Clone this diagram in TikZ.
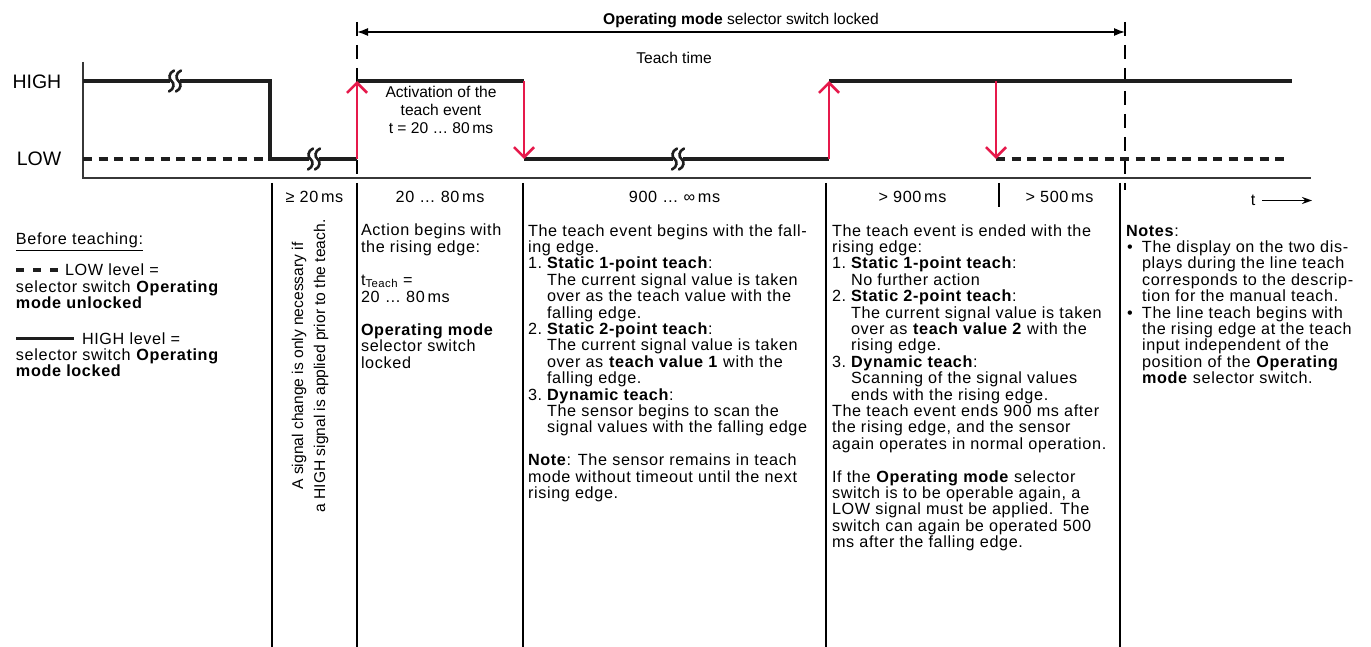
\documentclass[tikz,border=0pt]{standalone}
\usepackage{fontspec}
\setmainfont{Liberation Sans}
\newfontfamily\bodyfam[LetterSpace=4]{Liberation Sans}
\usetikzlibrary{arrows.meta}
\definecolor{tred}{RGB}{230,25,75}
\definecolor{axgray}{RGB}{55,55,55}
\definecolor{sigblack}{RGB}{30,30,30}
\newcommand{\bodyfont}{\bodyfam\fontsize{16.2}{16.4}\selectfont\lineskiplimit=-20pt\relax}
\newcommand{\smallfont}{\fontsize{15.6}{18}\selectfont\lineskiplimit=-20pt\relax}
\newcommand{\rotfont}{\fontsize{15.6}{22}\selectfont\lineskiplimit=-20pt\relax}
\newcommand{\bigfont}{\fontsize{19.5}{22}\selectfont}
\newcommand{\fs}{\rule{0pt}{14pt}}
\newcommand{\numi}[1]{\makebox[19pt][l]{#1}}
\newcommand{\ind}{\makebox[19pt]{}}
\newcommand{\bul}{\makebox[16pt][l]{\hspace{1pt}•}}
\newcommand{\bind}{\makebox[16pt]{}}
\begin{document}
\begin{tikzpicture}[x=1pt,y=-1pt,
  sig/.style={line width=3.2pt, sigblack},
  lowdash/.style={sig, dash pattern=on 9pt off 6.5pt},
  legdash/.style={line width=3.4pt, sigblack, dash pattern=on 8pt off 9pt},
  redarr/.style={line width=2.6pt, tred, -{Straight Barb[length=10pt,width=20pt]}},
  colline/.style={line width=1.1pt, black},
  guide/.style={line width=1.2pt, black, dash pattern=on 14pt off 9pt},
  axisline/.style={line width=1.6pt, axgray},
  txt/.style={font=\bodyfont, inner sep=0pt, outer sep=0pt, align=left, anchor=north west},
  lbl/.style={font=\bodyfont, inner sep=0pt, anchor=base},
  small/.style={font=\smallfont, inner sep=0pt},
  lvl/.style={font=\bigfont, inner sep=0pt, anchor=east},
  brk/.pic={
    \fill[white] (-5,-2.2) rectangle (5,2.2);
    \draw[line width=2.6pt, sigblack, line cap=round] (-1,-10.5) .. controls (-6.5,-8) and (-6.5,-2) .. (-3.5,0) .. controls (-0.5,2) and (-0.5,8) .. (-6,10.5);
    \draw[line width=2.6pt, sigblack, line cap=round] (6,-10.5) .. controls (0.5,-8) and (0.5,-2) .. (3.5,0) .. controls (6.5,2) and (6.5,8) .. (1,10.5);
  }
]
\useasboundingbox (0,0) rectangle (1371,647);
\fill[white] (0,0) rectangle (1371,647);

% ---------- axes ----------
\coordinate (axtop) at (83,62);
\coordinate (axorig) at (83,178);
\coordinate (axend) at (1311,178);
\draw[axisline] (axtop) -- (axorig) -- (axend);

% ---------- level labels ----------
\node[lvl] (high) at (61.5,81.5) {HIGH};
\node[lvl] (low) at (61.5,159) {LOW};

% ---------- guides and top arrow ----------
\coordinate (gLt) at (357,22);
\coordinate (gLb) at (357,178);
\coordinate (gRt) at (1125,22);
\coordinate (gRb) at (1125,190);
\draw[guide] (gLt) -- (gLb);
\draw[guide] (gRt) -- (gRb);
\coordinate (aL) at (357,32);
\coordinate (aR) at (1125,32);
\draw[line width=1.3pt, {Latex[length=11pt,width=8pt]}-{Latex[length=11pt,width=8pt]}] (aL) -- (aR);
\node[small, anchor=base] (oml) at (741,24.5) {\textbf{Operating mode} selector switch locked};
\node[small, anchor=base] (tt) at (674,63.5) {Teach time};
\node[small, align=center, anchor=north] (act) at (441,84.5) {\rule{0pt}{13pt}Activation of the\\teach event\\t = 20 … 80\,ms};

% ---------- signal ----------
\coordinate (H0) at (83,81);
\coordinate (L0) at (83,159);
\coordinate (F1) at (270,81);
\coordinate (F1b) at (270,159);
\coordinate (R1) at (357,159);
\coordinate (R1t) at (357,81);
\coordinate (D1) at (524,81);
\coordinate (D1b) at (524,159);
\coordinate (R2) at (829,159);
\coordinate (R2t) at (829,81);
\coordinate (D2) at (996,81);
\coordinate (D2b) at (996,159);
\coordinate (Hend) at (1292,81);
\coordinate (Lend) at (1287,159);
\draw[lowdash] (L0) -- (F1b);
\draw[sig] (H0) -- (F1) -- (F1b) -- (R1);
\draw[sig] (R1t) -- (D1);
\draw[sig] (D1b) -- (R2);
\draw[sig] (R2t) -- (Hend);
\draw[lowdash] (D2b) -- (Lend);
\pic at (175,81) {brk};
\pic at (314,159) {brk};
\pic at (678,159) {brk};
\draw[redarr] (R1) -- (R1t);
\draw[redarr] (D1) -- (D1b);
\draw[redarr] (R2) -- (R2t);
\draw[redarr] (D2) -- (D2b);

% ---------- t axis label ----------
\node[lbl] (tlab) at (1253,206) {t};
\coordinate (ta) at (1262,200.5);
\coordinate (tb) at (1312,200.5);
\draw[line width=1.3pt, -{Stealth[length=10pt,width=7pt]}] (ta) -- (tb);

% ---------- column lines ----------
\foreach \cx/\nm in {272/c1,357/c2,523/c3,826/c4,1120/c5}{
  \coordinate (\nm t) at (\cx,183);
  \coordinate (\nm b) at (\cx,647);
  \draw[colline] (\nm t) -- (\nm b);
}
\coordinate (tickt) at (999,183);
\coordinate (tickb) at (999,207);
\draw[colline] (tickt) -- (tickb);

% ---------- timing labels ----------
\node[lbl] (t1) at (314.5,203) {≥ 20\,ms};
\node[lbl] (t2) at (440,203) {20 … 80\,ms};
\node[lbl] (t3) at (674.5,203) {900 … ∞\,ms};
\node[lbl] (t4) at (912.5,203) {> 900\,ms};
\node[lbl] (t5) at (1059.5,203) {> 500\,ms};

% ---------- legend ----------
\node[txt] (bt) at (16,231) {\fs\underline{Before teaching:}};
\coordinate (ld1) at (16,270);
\coordinate (ld2) at (59,270);
\draw[legdash] (ld1) -- (ld2);
\node[txt] (lowl) at (65,262) {\fs LOW level =};
\node[txt] (lowd) at (16,278.4) {\fs selector switch \textbf{Operating}\\\textbf{mode unlocked}};
\coordinate (hd1) at (16,338.5);
\coordinate (hd2) at (74,338.5);
\draw[sig] (hd1) -- (hd2);
\node[txt] (highl) at (82,330) {\fs HIGH level =};
\node[txt] (highd) at (16,346.4) {\fs selector switch \textbf{Operating}\\\textbf{mode locked}};

% ---------- rotated note ----------
\node[font=\rotfont, inner sep=0pt, align=center, rotate=90] (rot) at (310,366)
  {A signal change is only necessary if\\a HIGH signal is applied prior to the teach.};

% ---------- column 3 ----------
\node[txt] (c3a) at (361,222) {\fs Action begins with\\the rising edge:};
\node[txt] (c3b) at (361,271) {\fs t\textsubscript{Teach} =\\[1.2pt]20 … 80\,ms};
\node[txt] (c3c) at (361,321.5) {\fs\textbf{Operating mode}\\selector switch\\locked};

% ---------- column 4 ----------
\node[txt] (c4) at (528,222) {\fs The teach event begins with the fall-\\
ing edge.\\
\numi{1.}\textbf{Static 1-point teach}:\\
\ind The current signal value is taken\\
\ind over as the teach value with the\\
\ind falling edge.\\
\numi{2.}\textbf{Static 2-point teach}:\\
\ind The current signal value is taken\\
\ind over as \textbf{teach value 1} with the\\
\ind falling edge.\\
\numi{3.}\textbf{Dynamic teach}:\\
\ind The sensor begins to scan the\\
\ind signal values with the falling edge\\[16.4pt]
\textbf{Note}: The sensor remains in teach\\
mode without timeout until the next\\
rising edge.};

% ---------- column 5 ----------
\node[txt] (c5) at (832,222) {\fs The teach event is ended with the\\
rising edge:\\
\numi{1.}\textbf{Static 1-point teach}:\\
\ind No further action\\
\numi{2.}\textbf{Static 2-point teach}:\\
\ind The current signal value is taken\\
\ind over as \textbf{teach value 2} with the\\
\ind rising edge.\\
\numi{3.}\textbf{Dynamic teach}:\\
\ind Scanning of the signal values\\
\ind ends with the rising edge.\\
The teach event ends 900 ms after\\
the rising edge, and the sensor\\
again operates in normal operation.\\[16.4pt]
If the \textbf{Operating mode} selector\\
switch is to be operable again, a\\
LOW signal must be applied. The\\
switch can again be operated 500\\
ms after the falling edge.};

% ---------- column 6 ----------
\node[txt] (c6) at (1126,222) {\fs\textbf{Notes}:\\
\bul The display on the two dis-\\
\bind plays during the line teach\\
\bind corresponds to the descrip-\\
\bind tion for the manual teach.\\
\bul The line teach begins with\\
\bind the rising edge at the teach\\
\bind input independent of the\\
\bind position of the \textbf{Operating}\\
\bind\textbf{mode} selector switch.};
\end{tikzpicture}
\end{document}
